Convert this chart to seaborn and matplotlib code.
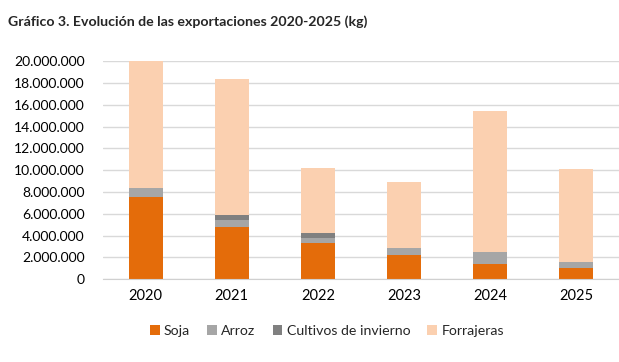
import matplotlib
matplotlib.use("Agg")
import matplotlib.pyplot as plt
import seaborn as sns
import numpy as np
import pandas as pd
from matplotlib.ticker import FuncFormatter
from matplotlib.patches import Patch

years = ["2020", "2021", "2022", "2023", "2024", "2025"]
soja = [7.5e6, 4.8e6, 3.3e6, 2.2e6, 1.4e6, 1.0e6]
arroz = [0.85e6, 0.6e6, 0.5e6, 0.65e6, 1.05e6, 0.55e6]
cultivos = [0.0, 0.5e6, 0.45e6, 0.0, 0.0, 0.0]
forrajeras = [11.65e6, 12.45e6, 5.95e6, 6.08e6, 12.95e6, 8.55e6]

series = ["Soja", "Arroz", "Cultivos de invierno", "Forrajeras"]
values = [soja, arroz, cultivos, forrajeras]
colors = ["#E46C0A", "#A6A6A6", "#808080", "#FBD0B0"]

sns.set_style("white")
plt.rcParams["font.family"] = ["Lato", "DejaVu Sans"]

fig = plt.figure(figsize=(6.19, 3.62), dpi=100)
ax = fig.add_axes([0.166, 0.229, 0.834, 0.602])

bottom = np.zeros(len(years))
for name, vals, col in zip(series, values, colors):
    df = pd.DataFrame({"year": years, "value": vals})
    sns.barplot(data=df, x="year", y="value", color=col, width=0.4,
                bottom=bottom.copy(), ax=ax, saturation=1, errorbar=None,
                edgecolor="none", linewidth=0)
    bottom += np.array(vals)

ax.set_ylim(0, 20e6)
ax.set_yticks(np.arange(0, 20e6 + 1, 2e6))
ax.yaxis.set_major_formatter(FuncFormatter(lambda v, p: f"{int(v):,}".replace(",", ".")))
ax.grid(axis="y", color="#D9D9D9", linewidth=1)
ax.set_axisbelow(True)
for s in ["top", "right", "left"]:
    ax.spines[s].set_visible(False)
ax.spines["bottom"].set_color("#D0D0D0")
ax.tick_params(axis="y", length=0, labelsize=10, colors="#000000", pad=13)
ax.tick_params(axis="x", length=0, labelsize=10.5, colors="#000000", pad=7)
ax.set_xlabel("")
ax.set_ylabel("")

fig.text(0.013, 0.94, "Gráfico 3. Evolución de las exportaciones 2020-2025 (kg)",
         fontsize=10.2, fontweight="bold", ha="left", va="center")

handles = [Patch(facecolor=c, edgecolor="none", label=n) for n, c in zip(series, colors)]
fig.legend(handles=handles, loc="center", bbox_to_anchor=(0.528, 0.087), ncol=4,
           frameon=False, fontsize=10.2, handlelength=0.7, handleheight=0.7,
           handletextpad=0.3, columnspacing=1.2)

fig.savefig("out.png", dpi=100)
